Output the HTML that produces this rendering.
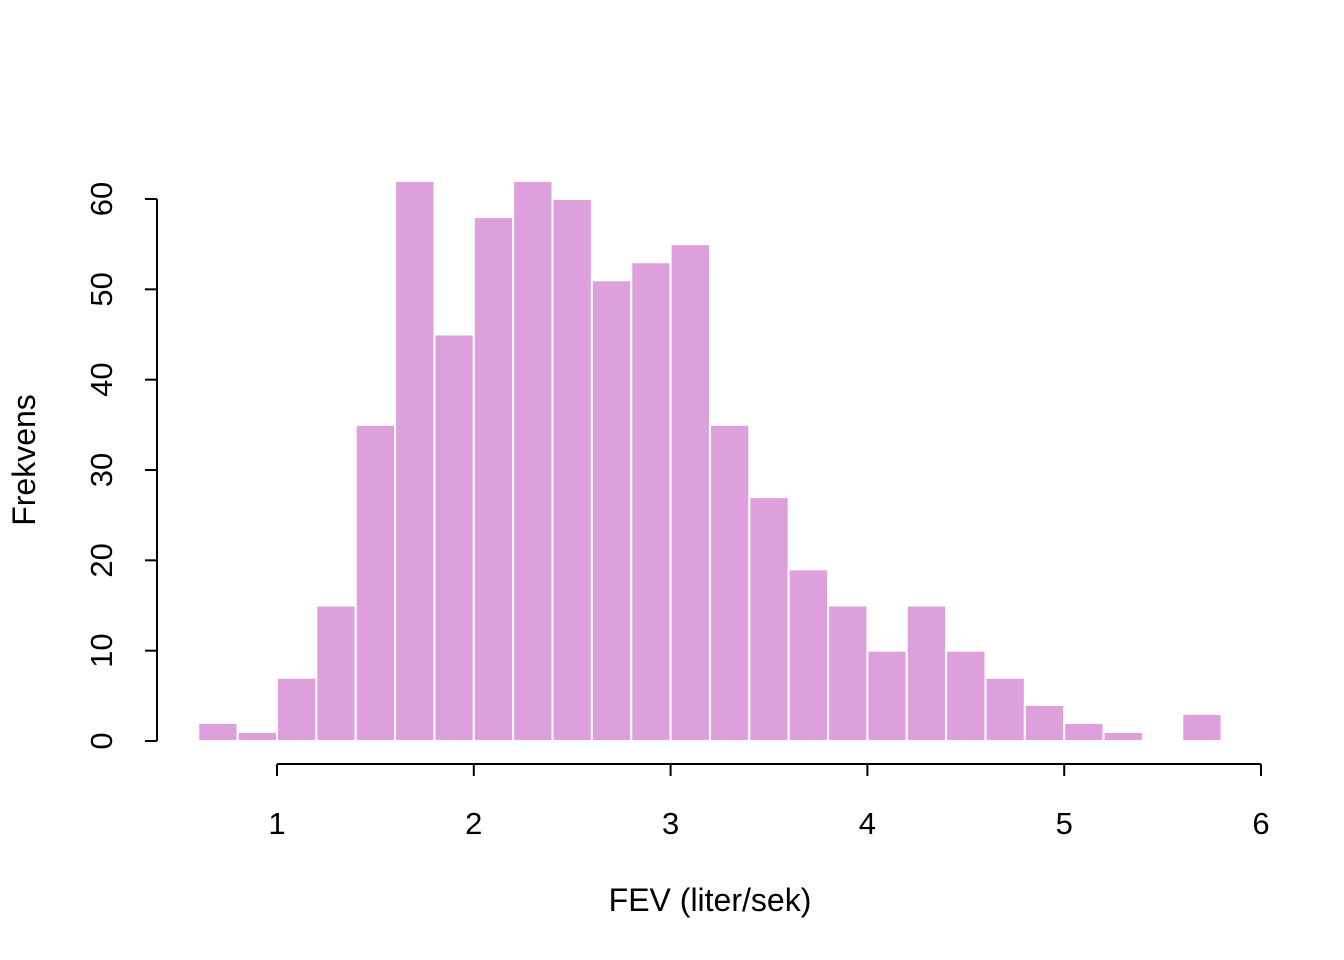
<!DOCTYPE html>
<html><head><meta charset="utf-8"><style>
body{margin:0;background:#fff}
svg{display:block}
text{font-family:"Liberation Sans",Arial,sans-serif;fill:#000}
</style></head><body>
<svg id="chart" width="1344" height="960">
<g id="bars"></g>
<g id="axes"></g>
<text x="710" y="911" font-size="32" text-anchor="middle">FEV (liter/sek)</text>
<text transform="translate(35,460) rotate(-90)" font-size="32" text-anchor="middle">Frekvens</text>
</svg>
<script>
const binStarts=[0.6,0.8,1.0,1.2,1.4,1.6,1.8,2.0,2.2,2.4,2.6,2.8,3.0,3.2,3.4,3.6,3.8,4.0,4.2,4.4,4.6,4.8,5.0,5.2,5.4,5.6];
const counts=[2,1,7,15,35,62,45,58,62,60,51,53,55,35,27,19,15,10,15,10,7,4,2,1,0,3];
const binWidth=0.2;
const xTicks=[1,2,3,4,5,6];
const yTicks=[0,10,20,30,40,50,60];
const NS="http://www.w3.org/2000/svg";
const xs=v=>277+(v-1)*196.8;
const ys=v=>741-v*(542/60);
const bars=document.getElementById('bars'),axes=document.getElementById('axes');
function mk(tag,attrs,parent){const e=document.createElementNS(NS,tag);for(const k in attrs)e.setAttribute(k,attrs[k]);parent.appendChild(e);return e;}
binStarts.forEach((b,i)=>{
  if(counts[i]<=0)return;
  const r=mk('rect',{x:xs(b),y:ys(counts[i]),width:xs(b+binWidth)-xs(b),height:ys(0)-ys(counts[i]),fill:'#DDA0DD',stroke:'#fff','stroke-width':2},bars);
  
  
});
let l=mk('line',{x1:xs(xTicks[0]),x2:xs(xTicks[xTicks.length-1]),y1:764,y2:764,stroke:'#000','stroke-width':2},axes);


xTicks.forEach(t=>{
  const tk=mk('line',{x1:xs(t),x2:xs(t),y1:764,y2:776,stroke:'#000','stroke-width':2},axes);
  
  
  const tx=mk('text',{x:xs(t),y:834,'font-size':31,'text-anchor':'middle'},axes);
  tx.textContent=t;
  
  
});
l=mk('line',{x1:157,x2:157,y1:ys(yTicks[0]),y2:ys(yTicks[yTicks.length-1]),stroke:'#000','stroke-width':2},axes);


yTicks.forEach(t=>{
  const tk=mk('line',{x1:145,x2:157,y1:ys(t),y2:ys(t),stroke:'#000','stroke-width':2},axes);
  
  
  const tx=mk('text',{transform:`translate(112,${ys(t)}) rotate(-90)`,'font-size':31,'text-anchor':'middle'},axes);
  tx.textContent=t;
  
  
});
</script>
</body></html>
